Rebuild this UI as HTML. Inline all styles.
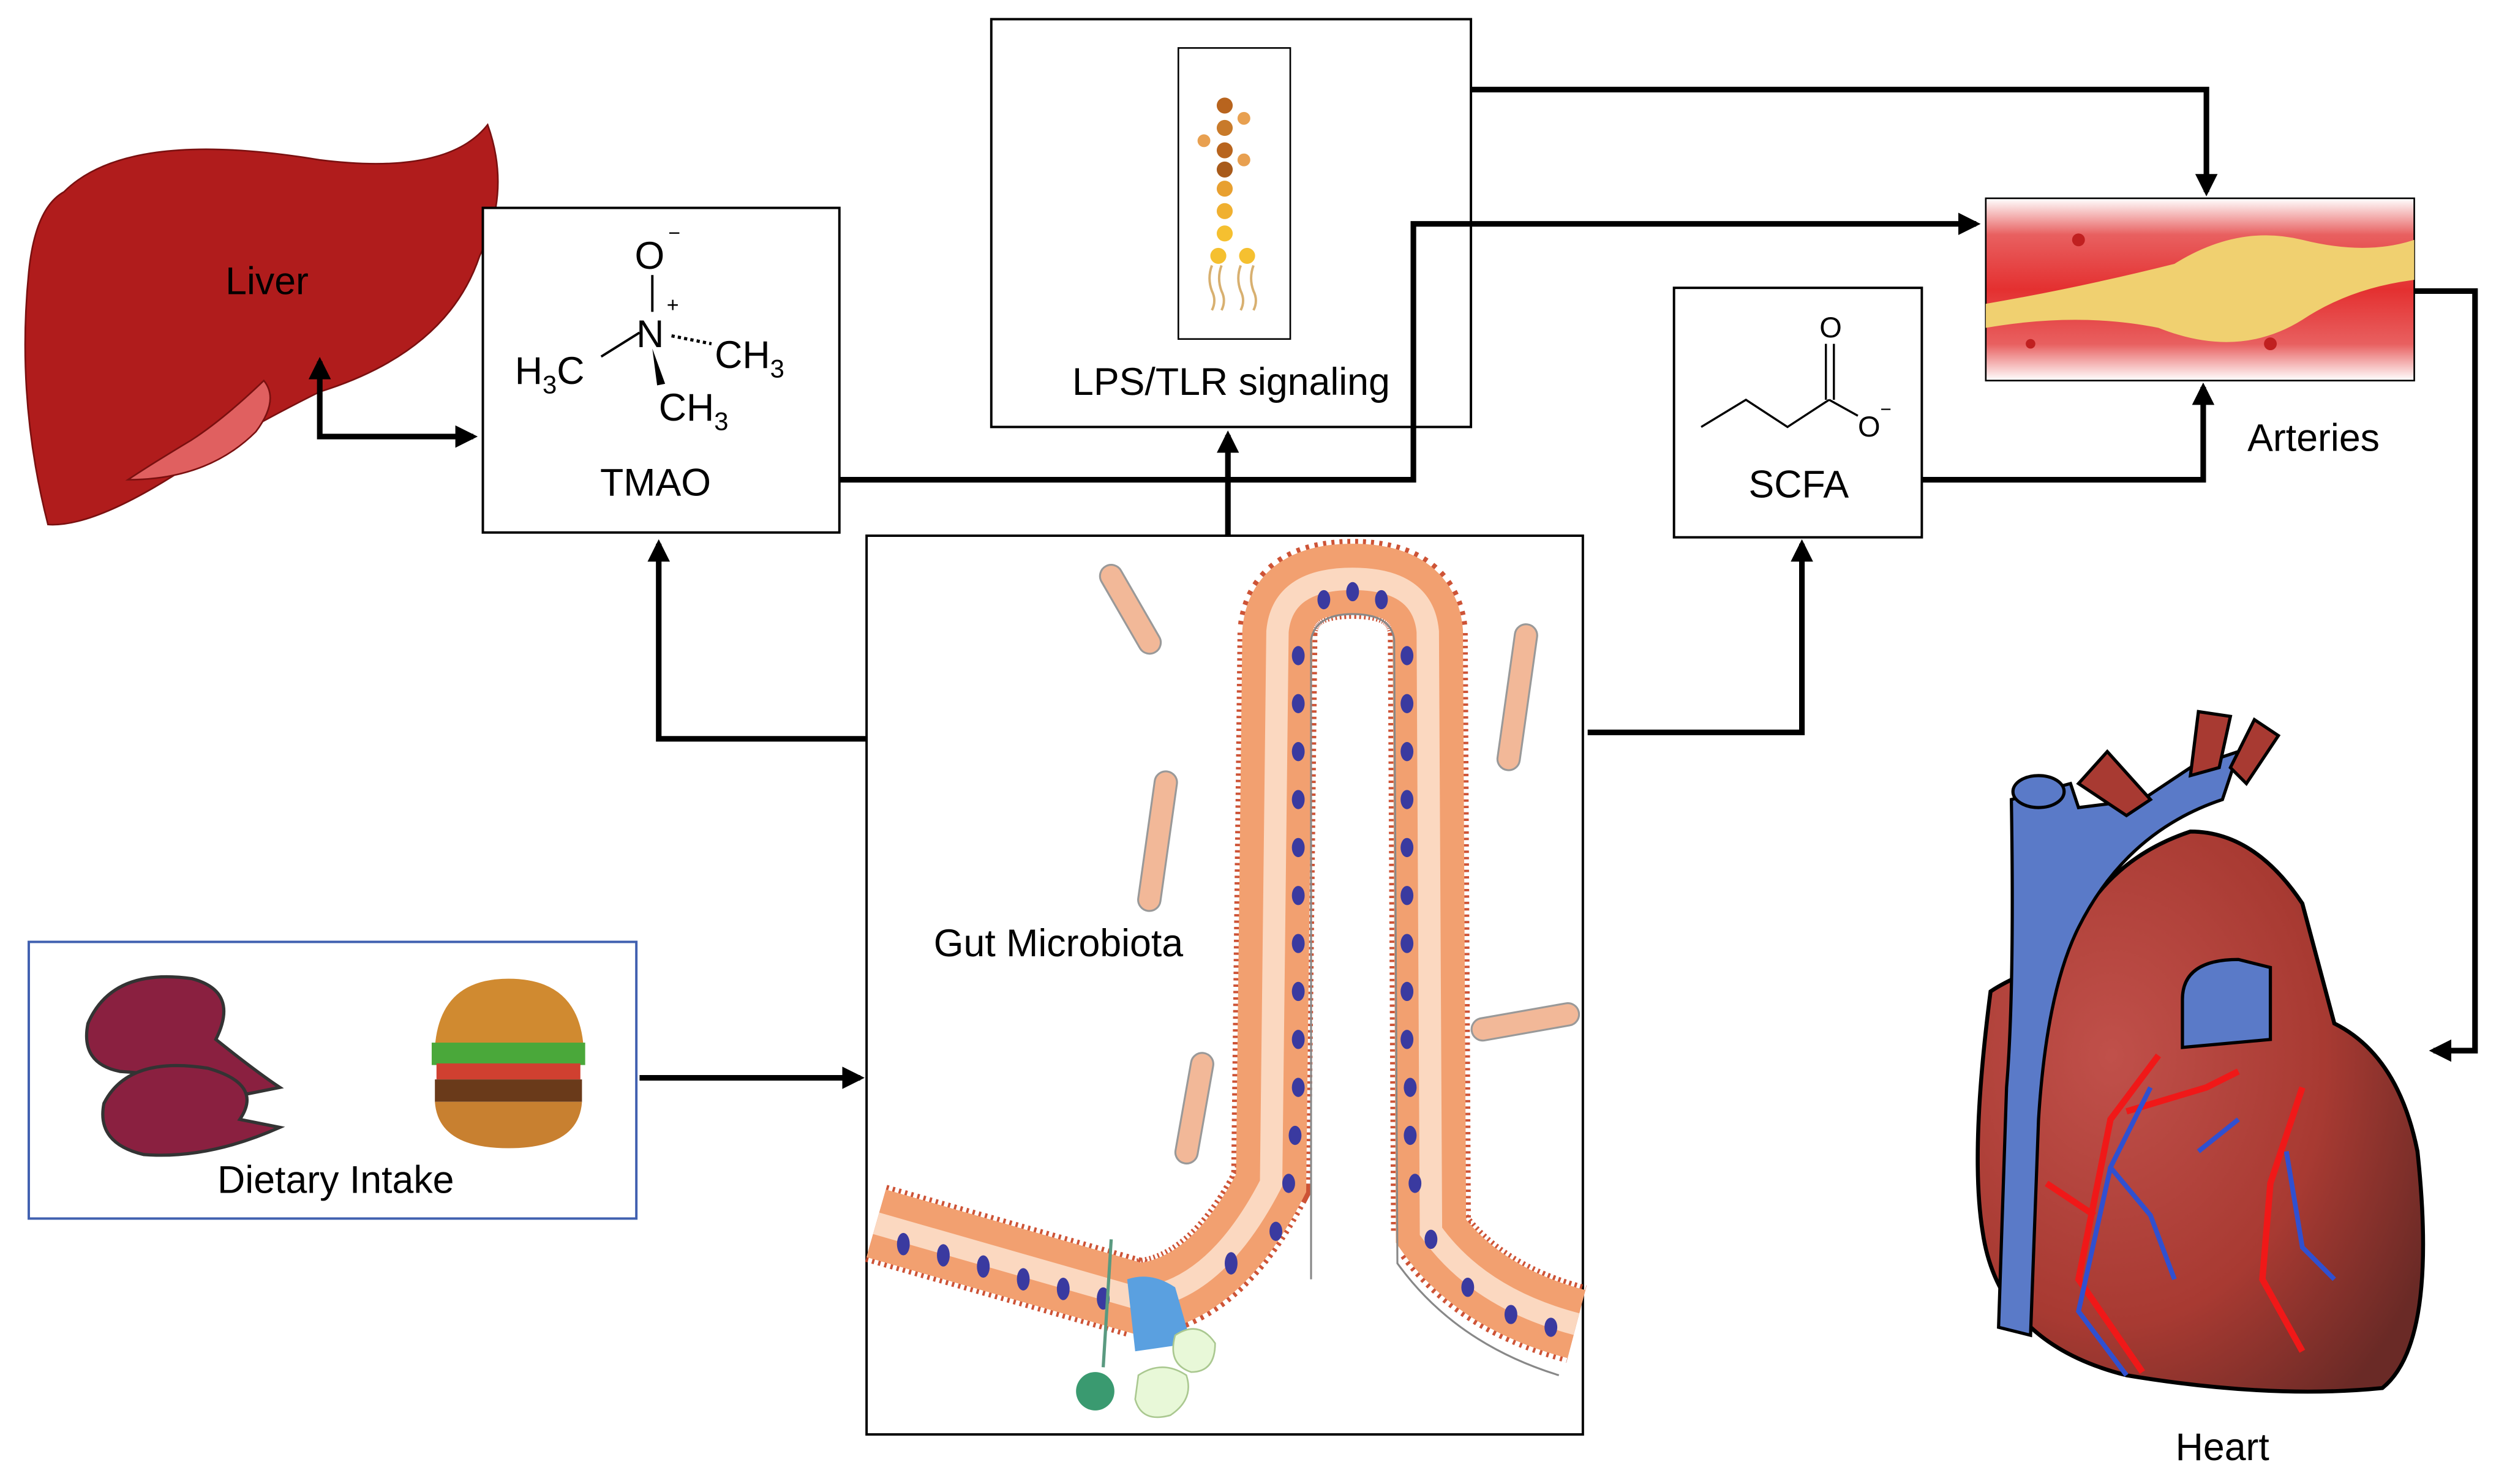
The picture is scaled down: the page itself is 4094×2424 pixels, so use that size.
<!DOCTYPE html>
<html><head><meta charset="utf-8">
<style>
html,body{margin:0;padding:0;background:#fff;}
svg{display:block;}
text{font-family:"Liberation Sans",sans-serif;fill:#000;}
</style></head>
<body>
<svg width="4094" height="2424" viewBox="0 0 1568 928" preserveAspectRatio="none" xmlns="http://www.w3.org/2000/svg">
<defs>
<marker id="ah" markerWidth="4" markerHeight="4" refX="3.2" refY="2" orient="auto-start-reverse" markerUnits="strokeWidth">
<path d="M0,0 L4,2 L0,4 Z" fill="#000"/></marker>
<linearGradient id="art" x1="0" y1="0" x2="0" y2="1">
<stop offset="0" stop-color="#fff"/><stop offset="0.2" stop-color="#e86060"/><stop offset="0.5" stop-color="#e43030"/><stop offset="0.8" stop-color="#e86060"/><stop offset="1" stop-color="#fff"/></linearGradient>
<radialGradient id="hrt" cx="0.3" cy="0.4" r="0.8">
<stop offset="0" stop-color="#c0504a"/><stop offset="0.6" stop-color="#a83a32"/><stop offset="1" stop-color="#6a2a26"/></radialGradient>
</defs>

<!-- Liver -->
<path d="M40,120 Q80,80 200,100 Q280,110 305,78 Q320,120 300,160 Q280,220 200,245 Q150,270 120,290 Q60,330 30,328 Q10,250 18,170 Q22,130 40,120 Z" fill="#b01c1c" stroke="#7a1010" stroke-width="1"/>
<path d="M80,300 Q130,300 160,270 Q175,250 165,238 Q140,262 120,275 Q95,290 80,300 Z" fill="#e06060" stroke="#7a1010" stroke-width="1"/>
<text x="167" y="184" font-size="24" text-anchor="middle">Liver</text>

<!-- TMAO box -->
<rect x="302" y="130" width="223" height="203" fill="#fff" stroke="#000" stroke-width="1.5"/>
<text x="397" y="168" font-size="24">O</text><text x="418" y="150" font-size="13">−</text>
<line x1="408" y1="172" x2="408" y2="195" stroke="#000" stroke-width="1.5"/>
<text x="398" y="217" font-size="24">N</text><text x="417" y="195" font-size="13">+</text>
<line x1="376" y1="223" x2="400" y2="208" stroke="#000" stroke-width="1.5"/>
<line x1="420" y1="210" x2="445" y2="215" stroke="#000" stroke-width="2" stroke-dasharray="2,2"/>
<path d="M408,218 L416,240 L411,241 Z" fill="#000"/>
<text x="322" y="240" font-size="24">H<tspan font-size="16" dy="6">3</tspan><tspan dy="-6">C</tspan></text>
<text x="447" y="230" font-size="24">CH<tspan font-size="16" dy="6">3</tspan></text>
<text x="412" y="263" font-size="24">CH<tspan font-size="16" dy="6">3</tspan></text>
<text x="410" y="310" font-size="24" text-anchor="middle">TMAO</text>

<!-- LPS box -->
<rect x="620" y="12" width="300" height="255" fill="#fff" stroke="#000" stroke-width="1.5"/>
<rect x="737" y="30" width="70" height="182" fill="#fff" stroke="#000" stroke-width="1"/>
<g>
<circle cx="766" cy="66" r="5" fill="#b8641e"/><circle cx="778" cy="74" r="4" fill="#e8a050"/>
<circle cx="766" cy="80" r="5" fill="#c87a2a"/><circle cx="753" cy="88" r="4" fill="#e8a050"/>
<circle cx="766" cy="94" r="5" fill="#b8641e"/><circle cx="778" cy="100" r="4" fill="#e8a050"/>
<circle cx="766" cy="106" r="5" fill="#a85a1a"/><circle cx="766" cy="118" r="5" fill="#e8a030"/>
<circle cx="766" cy="132" r="5" fill="#f0b030"/><circle cx="766" cy="146" r="5" fill="#f5c030"/>
<circle cx="762" cy="160" r="5" fill="#f5c030"/><circle cx="780" cy="160" r="5" fill="#f5c030"/>
<path d="M758,166 q-3,8 0,16 q3,6 0,12 M764,166 q-3,8 0,16 q3,6 0,12 M776,166 q-3,8 0,16 q3,6 0,12 M784,166 q-3,8 0,16 q3,6 0,12" stroke="#d8b070" fill="none" stroke-width="1.5"/>
</g>
<text x="770" y="247" font-size="24" text-anchor="middle">LPS/TLR signaling</text>

<!-- SCFA -->
<rect x="1047" y="180" width="155" height="156" fill="#fff" stroke="#000" stroke-width="1.5"/>
<path d="M1064,267 L1092,250 L1118,267 L1144,250" stroke="#000" fill="none" stroke-width="1.3"/>
<line x1="1142" y1="250" x2="1142" y2="215" stroke="#000" stroke-width="1.3"/>
<line x1="1147" y1="250" x2="1147" y2="215" stroke="#000" stroke-width="1.3"/>
<line x1="1144" y1="250" x2="1162" y2="260" stroke="#000" stroke-width="1.3"/>
<text x="1138" y="211" font-size="18">O</text>
<text x="1162" y="273" font-size="18">O</text><text x="1176" y="260" font-size="12">−</text>
<text x="1125" y="311" font-size="24" text-anchor="middle">SCFA</text>

<!-- Arteries -->
<rect x="1242" y="124" width="268" height="114" fill="url(#art)" stroke="#000" stroke-width="1"/>
<path d="M1242,190 Q1300,180 1360,165 Q1400,140 1440,150 Q1480,160 1510,150 L1510,175 Q1470,180 1440,200 Q1400,225 1350,205 Q1300,195 1242,205 Z" fill="#f0d070"/>
<circle cx="1300" cy="150" r="4" fill="#c02020"/><circle cx="1420" cy="215" r="4" fill="#c02020"/><circle cx="1270" cy="215" r="3" fill="#c02020"/>
<text x="1447" y="282" font-size="24" text-anchor="middle">Arteries</text>

<!-- Gut box -->
<rect x="542" y="335" width="448" height="562" fill="#fff" stroke="#000" stroke-width="1.5"/>
<path d="M548,765 L712,812 Q760,808 795,740 L799,395 Q802,362 846,362 Q890,362 893,395 L895,770 Q925,812 986,828" stroke="#c84020" stroke-width="50" fill="none" stroke-dasharray="1.5,2.5" opacity="0.9"/>
<path d="M548,765 L712,812 Q760,808 795,740 L799,395 Q802,362 846,362 Q890,362 893,395 L895,770 Q925,812 986,828" stroke="#f2a070" stroke-width="44" fill="none"/>
<path d="M548,765 L712,812 Q760,808 795,740 L799,395 Q802,362 846,362 Q890,362 893,395 L895,770 Q925,812 986,828" stroke="#fbd8c0" stroke-width="14" fill="none"/>
<path d="M820,800 L820,400 Q823,384 846,384 Q870,384 872,400 L874,790 Q910,840 975,860" stroke="#888" stroke-width="1.2" fill="none"/>
<g fill="#3a3aa0">
<ellipse cx="812" cy="410" rx="4" ry="6"/><ellipse cx="812" cy="440" rx="4" ry="6"/><ellipse cx="812" cy="470" rx="4" ry="6"/><ellipse cx="812" cy="500" rx="4" ry="6"/><ellipse cx="812" cy="530" rx="4" ry="6"/><ellipse cx="812" cy="560" rx="4" ry="6"/><ellipse cx="812" cy="590" rx="4" ry="6"/><ellipse cx="812" cy="620" rx="4" ry="6"/><ellipse cx="812" cy="650" rx="4" ry="6"/><ellipse cx="812" cy="680" rx="4" ry="6"/><ellipse cx="810" cy="710" rx="4" ry="6"/><ellipse cx="806" cy="740" rx="4" ry="6"/><ellipse cx="798" cy="770" rx="4" ry="6"/>
<ellipse cx="880" cy="410" rx="4" ry="6"/><ellipse cx="880" cy="440" rx="4" ry="6"/><ellipse cx="880" cy="470" rx="4" ry="6"/><ellipse cx="880" cy="500" rx="4" ry="6"/><ellipse cx="880" cy="530" rx="4" ry="6"/><ellipse cx="880" cy="560" rx="4" ry="6"/><ellipse cx="880" cy="590" rx="4" ry="6"/><ellipse cx="880" cy="620" rx="4" ry="6"/><ellipse cx="880" cy="650" rx="4" ry="6"/><ellipse cx="882" cy="680" rx="4" ry="6"/><ellipse cx="882" cy="710" rx="4" ry="6"/><ellipse cx="885" cy="740" rx="4" ry="6"/><ellipse cx="895" cy="775" rx="4" ry="6"/><ellipse cx="918" cy="805" rx="4" ry="6"/><ellipse cx="945" cy="822" rx="4" ry="6"/><ellipse cx="970" cy="830" rx="4" ry="6"/>
<ellipse cx="828" cy="375" rx="4" ry="6"/><ellipse cx="846" cy="370" rx="4" ry="6"/><ellipse cx="864" cy="375" rx="4" ry="6"/>
<ellipse cx="565" cy="778" rx="4" ry="7"/><ellipse cx="590" cy="785" rx="4" ry="7"/><ellipse cx="615" cy="792" rx="4" ry="7"/><ellipse cx="640" cy="800" rx="4" ry="7"/><ellipse cx="665" cy="806" rx="4" ry="7"/><ellipse cx="690" cy="812" rx="4" ry="7"/><ellipse cx="770" cy="790" rx="4" ry="7"/>
</g>
<path d="M705,800 Q720,795 735,805 L745,840 L710,845 Z" fill="#5aa0e0"/>
<circle cx="685" cy="870" r="12" fill="#3a9a70"/><line x1="690" y1="855" x2="695" y2="775" stroke="#5a9a80" stroke-width="2"/>
<path d="M712,860 q15,-10 30,0 q5,15 -10,25 q-18,5 -22,-10 z" fill="#e8f8d8" stroke="#aac890"/>
<path d="M735,835 q15,-10 25,5 q0,18 -15,18 q-15,-5 -10,-23 z" fill="#e8f8d8" stroke="#aac890"/>
<g fill="#f2b898" stroke="#999" stroke-width="1.2">
<rect x="700" y="350" width="14" height="62" rx="7" transform="rotate(-30 707 381)"/>
<rect x="942" y="390" width="14" height="92" rx="7" transform="rotate(8 949 436)"/>
<rect x="717" y="482" width="14" height="88" rx="7" transform="rotate(8 724 526)"/>
<rect x="947" y="605" width="14" height="68" rx="7" transform="rotate(80 954 639)"/>
<rect x="740" y="658" width="14" height="70" rx="7" transform="rotate(10 747 693)"/>
</g>
<text x="662" y="598" font-size="24" text-anchor="middle">Gut Microbiota</text>

<!-- Dietary -->
<rect x="18" y="589" width="380" height="173" fill="#fff" stroke="#4060b0" stroke-width="1.5"/>
<path d="M55,640 Q70,605 120,612 Q150,620 135,650 Q160,670 175,680 L150,685 Q110,672 75,670 Q50,665 55,640 Z" fill="#8a2040" stroke="#333" stroke-width="2"/>
<path d="M65,690 Q80,660 130,668 Q165,678 150,700 L175,705 Q130,725 90,722 Q60,715 65,690 Z" fill="#8a2040" stroke="#333" stroke-width="2"/>
<path d="M272,655 Q275,612 318,612 Q362,612 365,655 Z" fill="#d08a30"/>
<rect x="270" y="652" width="96" height="14" fill="#4aa83a"/>
<rect x="273" y="665" width="90" height="10" fill="#d04030"/>
<rect x="272" y="675" width="92" height="14" fill="#6a3a1a"/>
<path d="M272,689 L364,689 Q362,718 318,718 Q274,718 272,689 Z" fill="#c88030"/>
<text x="210" y="746" font-size="24" text-anchor="middle">Dietary Intake</text>

<!-- Heart -->
<path d="M1245,620 Q1232,720 1240,770 Q1250,840 1330,860 Q1420,875 1490,868 Q1525,840 1512,720 Q1500,660 1460,640 L1440,565 Q1410,520 1370,520 Q1310,540 1290,600 Q1260,610 1245,620 Z" fill="url(#hrt)" stroke="#000" stroke-width="2.5"/>
<path d="M1258,500 Q1260,620 1255,680 L1250,830 L1270,835 L1275,700 Q1280,620 1300,580 Q1330,520 1390,500 L1400,470 L1370,480 L1340,500 L1300,505 L1295,490 Z" fill="#5a7ac8" stroke="#000" stroke-width="2"/>
<ellipse cx="1275" cy="495" rx="16" ry="10" fill="#5a7ac8" stroke="#000" stroke-width="2"/>
<path d="M1300,490 L1318,470 L1345,500 L1330,510 Z" fill="#a83a32" stroke="#000" stroke-width="2"/>
<path d="M1370,485 L1375,445 L1395,448 L1388,480 Z" fill="#a83a32" stroke="#000" stroke-width="2"/>
<path d="M1395,480 L1410,450 L1425,460 L1405,490 Z" fill="#a83a32" stroke="#000" stroke-width="2"/>
<path d="M1365,625 Q1365,600 1400,600 L1420,605 L1420,650 L1365,655 Z" fill="#5a7ac8" stroke="#000" stroke-width="2"/>
<path d="M1350,660 L1320,700 L1310,750 L1300,800 L1340,858 M1330,695 L1380,680 L1400,670 M1440,680 L1420,740 L1415,800 L1440,845 M1280,740 L1310,760" stroke="#f01818" stroke-width="4" fill="none"/>
<path d="M1345,680 L1320,730 L1345,760 L1360,800 M1320,730 L1300,820 L1330,860 M1430,720 L1440,780 L1460,800 M1400,700 L1375,720" stroke="#3050d0" stroke-width="3" fill="none"/>
<text x="1390" y="913" font-size="24" text-anchor="middle">Heart</text>

<!-- Connectors -->
<g stroke="#000" stroke-width="3.5" fill="none">
<path d="M200,226 L200,273 L296,273" marker-start="url(#ah)" marker-end="url(#ah)"/>
<path d="M542,462 L412,462 L412,340" marker-end="url(#ah)"/>
<path d="M768,335 L768,272" marker-end="url(#ah)"/>
<path d="M525,300 L884,300 L884,140 L1236,140" marker-end="url(#ah)"/>
<path d="M920,56 L1380,56 L1380,120" marker-end="url(#ah)"/>
<path d="M1202,300 L1378,300 L1378,242" marker-end="url(#ah)"/>
<path d="M993,458 L1127,458 L1127,340" marker-end="url(#ah)"/>
<path d="M1510,182 L1548,182 L1548,657 L1522,657" marker-end="url(#ah)"/>
<path d="M400,674 L538,674" marker-end="url(#ah)"/>
</g>
</svg>
</body></html>
